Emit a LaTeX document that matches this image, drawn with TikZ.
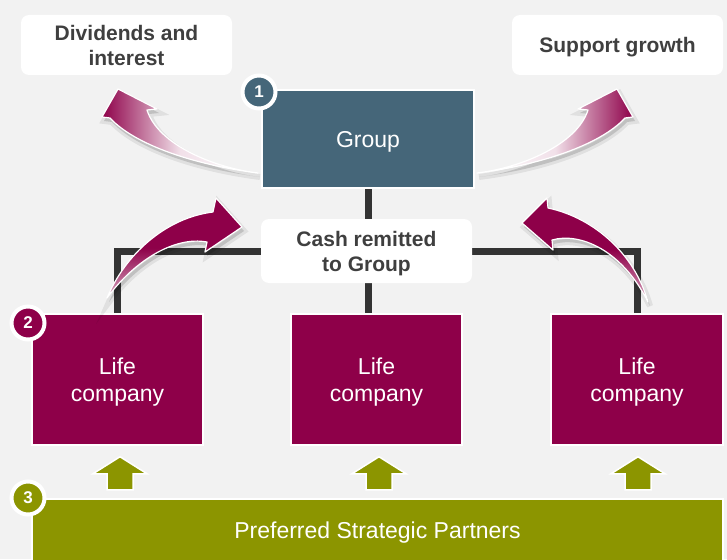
\documentclass[tikz,border=0pt]{standalone}
\usepackage{fontspec}
\setmainfont{Liberation Sans}
\definecolor{bgc}{HTML}{F2F2F2}
\definecolor{slate}{HTML}{456679}
\definecolor{crimson}{HTML}{8E0049}
\definecolor{olive}{HTML}{8C9500}
\definecolor{linec}{HTML}{333333}
\definecolor{labelc}{HTML}{3F3F3F}
\pgfdeclarelayer{back}
\pgfdeclarelayer{wires}
\pgfsetlayers{back,wires,main}

\begin{document}
\begin{tikzpicture}[x=1pt,y=-1pt,
  tagbox/.style={fill=white, rounded corners=8pt, inner sep=0pt,
    minimum width=211pt, text=labelc, align=center,
    font=\fontsize{21}{25}\selectfont\bfseries},
  unitbox/.style={draw=white, line width=1.5pt, inner sep=0pt, text=white,
    align=center, text depth=-3pt, font=\fontsize{23}{27}\selectfont},
  badge/.style={circle, draw=white, line width=4pt, minimum size=33pt,
    inner sep=0pt, text=white, font=\fontsize{17}{17}\selectfont\bfseries},
  conn/.style={draw=linec, line width=7pt, line join=miter},
  curly/.style={draw=white, line width=1.2pt, line join=round,
    preaction={draw=black, draw opacity=0.07, line width=6pt,
      transform canvas={shift={(2pt,-4pt)}}},
    preaction={fill=black, fill opacity=0.14,
      transform canvas={shift={(2pt,-4pt)}}}},
  uparrow/.pic={\draw[white, fill=olive, line width=1.5pt, line join=miter]
    (0,-33) -- (27,-16) -- (13,-16) -- (13,0) -- (-13,0) -- (-13,-16)
    -- (-27,-16) -- cycle;}
]
\useasboundingbox (0,0) rectangle (727,559);
\begin{pgfonlayer}{back}
  \fill[bgc] (0,0) rectangle (727,559);
\end{pgfonlayer}

% outcome labels
\node[tagbox, minimum height=60pt] (divs) at (126.5,45) {Dividends and\\interest};
\node[tagbox, minimum height=60pt, text depth=-1pt] (grow) at (617.5,45) {Support growth};

% group and cash label
\node[unitbox, fill=slate, minimum width=212pt, minimum height=98pt] (group) at (368,139) {Group};
\node[tagbox, minimum height=64pt, text depth=-1pt] (cash) at (366.5,251) {Cash remitted\\to Group};

% life companies
\node[unitbox, fill=crimson, minimum width=171pt, minimum height=131pt] (lifeL) at (117.5,379.5) {Life\\company};
\node[unitbox, fill=crimson, minimum width=171pt, minimum height=131pt] (lifeM) at (376.5,379.5) {Life\\company};
\node[unitbox, fill=crimson, minimum width=172pt, minimum height=131pt] (lifeR) at (637,379.5) {Life\\company};

% partners bar
\node[unitbox, fill=olive, minimum width=691pt, minimum height=63pt, text depth=1pt] (psp) at (377.5,530.5) {Preferred Strategic Partners};

% connectors
\begin{pgfonlayer}{wires}
  \draw[conn] (group.south) -- (group.south |- lifeM.north);
  \draw[conn] (lifeL.north) |- (cash.center) -| (lifeR.north);
\end{pgfonlayer}

% flows out of the group
\path[curly, left color=crimson, right color=white, middle color=crimson!12]
  (258,173) .. controls (215,168) and (158,145) .. (147,110)
  -- (157,109) -- (118,89) -- (102,117) -- (110,118)
  .. controls (135,145) and (195,165) .. (258,173) -- cycle;
\path[curly, left color=white, right color=crimson, middle color=crimson!12]
  (477,173) .. controls (520,168) and (577,145) .. (588,110)
  -- (578,109) -- (617,89) -- (633,117) -- (625,118)
  .. controls (600,145) and (540,165) .. (477,173) -- cycle;

% cash flowing up to the group
\path[curly, top color=crimson, bottom color=crimson!35, middle color=crimson]
  (107,298) .. controls (125,255) and (165,218) .. (213,212)
  -- (216,198) -- (242,227) -- (205,252) -- (207,242)
  .. controls (175,236) and (135,260) .. (107,298) -- cycle;
\path[curly, top color=crimson, bottom color=crimson!35, middle color=crimson]
  (648,302) .. controls (635,255) and (595,218) .. (548,208)
  -- (547,198) -- (522,223) -- (553,250) -- (552,240)
  .. controls (580,232) and (622,250) .. (648,302) -- cycle;

% partner support arrows
\path (lifeL.south) ++(2.5,44) pic {uparrow};
\path (lifeM.south) ++(2.5,44) pic {uparrow};
\path (lifeR.south) ++(1,44) pic {uparrow};

% step badges
\node[badge, fill=slate] (b1) at (259,92) {1};
\node[badge, fill=crimson] (b2) at (28,323) {2};
\node[badge, fill=olive] (b3) at (28,498) {3};
\end{tikzpicture}
\end{document}
